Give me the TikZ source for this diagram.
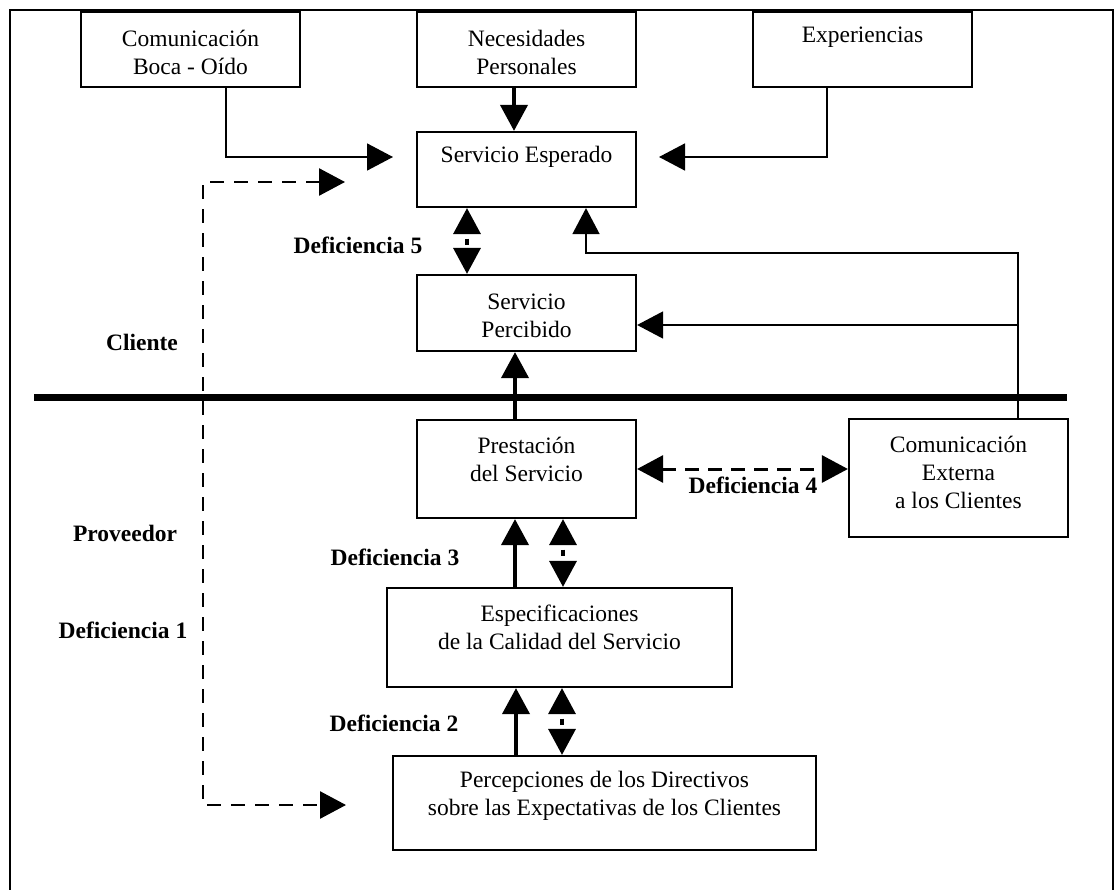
\documentclass[tikz,border=0pt]{standalone}
\usepackage{fontspec}
\setmainfont{Liberation Serif}
\usetikzlibrary{arrows.meta,calc}
\begin{document}
\begin{tikzpicture}[x=1pt,y=-1pt,
  >={Triangle[length=26pt,width=27pt]},
  box/.style={draw, rectangle, line width=2.2pt, inner sep=0pt},
  txt/.style={font=\fontsize{23.5}{28}\selectfont, align=center, inner sep=0pt},
  lbl/.style={font=\fontsize{23.5}{28}\selectfont\bfseries, inner sep=0pt},
  thinline/.style={line width=1.6pt, ->},
  thickarrow/.style={line width=4pt, ->},
  dashline/.style={line width=2.6pt, dash pattern=on 14pt off 10pt, <->},
  dashfour/.style={line width=3pt, dash pattern=on 14pt off 9pt, <->},
  gaparrow/.style={line width=3.5pt, <->, dash pattern=on 0pt off 5.5pt on 6pt off 40pt}]
\useasboundingbox (0,0) rectangle (1115,890);
\clip (0,0) rectangle (1115,890);
% outer frame
\draw[line width=2pt] (10,900) -- (10,10) -- (1113,10) -- (1113,900);

% boxes
\node[box, minimum width=219pt, minimum height=75pt] (boca) at (190.5,49.5) {};
\node[box, minimum width=219pt, minimum height=75pt] (nec) at (526.5,49.5) {};
\node[box, minimum width=219pt, minimum height=75pt] (exp) at (862.5,49.5) {};
\node[box, minimum width=219pt, minimum height=75pt] (se) at (526.5,169.5) {};
\node[box, minimum width=219pt, minimum height=76pt] (sp) at (526.5,313) {};
\node[box, minimum width=219pt, minimum height=98pt] (pres) at (526.5,469) {};
\node[box, minimum width=219pt, minimum height=118pt] (cext) at (958.5,478) {};
\node[box, minimum width=345pt, minimum height=99pt] (esp) at (559.5,637.5) {};
\node[box, minimum width=423pt, minimum height=94pt] (perc) at (604.5,803) {};

% box texts
\node[txt] (bocaT) at (190.5,52.5) {Comunicación\\Boca - Oído};
\node[txt] (necT) at (526.5,52.5) {Necesidades\\Personales};
\node[txt] (expT) at (862.5,37) {Experiencias};
\node[txt] (seT) at (526.5,157) {Servicio Esperado};
\node[txt] (spT) at (526.5,316) {Servicio\\Percibido};
\node[txt] (presT) at (526.5,459) {Prestación\\del Servicio};
\node[txt] (cextT) at (958.5,472.5) {Comunicación\\Externa\\a los Clientes};
\node[txt] (espT) at (559.5,627.5) {Especificaciones\\de la Calidad del Servicio};
\node[txt] (percT) at (604.5,796) {Percepciones de los Directivos\\sobre las Expectativas de los Clientes};

% labels
\node[lbl] (cli) at (142,342) {Cliente};
\node[lbl] (prov) at (125,533) {Proveedor};
\node[lbl] (def1) at (123,630) {Deficiencia 1};
\node[lbl] (def5) at (358,245) {Deficiencia 5};
\node[lbl] (def3) at (395,557) {Deficiencia 3};
\node[lbl] (def2) at (394,723) {Deficiencia 2};
\node[lbl] (def4) at (753,485) {Deficiencia 4};

% separator
\draw[line width=7pt] (34,397) -- (1067,397);

% coordinates
\coordinate (bocaEnd) at (393,157);
\coordinate (expEnd) at (659,157);
\coordinate (j1) at (1018,253);
\coordinate (j2) at (1018,325);
\coordinate (d1a) at (345,182);
\coordinate (d1c) at (203,805);
\coordinate (d1b) at (346,805);

% connectors
\draw[thinline] ($(boca.south)+(35.5,0)$) |- (bocaEnd);
\draw[thinline] ($(exp.south)+(-35.5,0)$) |- (expEnd);
\draw[thickarrow] ($(nec.south)+(-12.5,0)$) -- ($(se.north)+(-12.5,0)$);
\draw[gaparrow] ($(se.south)+(-59.5,0)$) -- ($(sp.north)+(-59.5,0)$);
\draw[thinline] ($(cext.north)+(59.5,0)$) -- (j1) -| ($(se.south)+(59.5,0)$);
\draw[thinline] (j2) -- (sp.east |- j2);
\draw[thickarrow] ($(pres.north)+(-11.5,0)$) -- ($(sp.south)+(-11.5,0)$);
\draw[dashfour] (pres.east) -- (pres.east -| cext.west);
\draw[thickarrow] ($(esp.north)+(-44.5,0)$) -- ($(pres.south)+(-11.5,0)$);
\draw[gaparrow] ($(pres.south)+(36.5,0)$) -- ($(esp.north)+(3.5,0)$);
\draw[thickarrow] ($(perc.north)+(-88.5,0)$) -- ($(esp.south)+(-43.5,0)$);
\draw[gaparrow] ($(esp.south)+(2.5,0)$) -- ($(perc.north)+(-42.5,0)$);
\draw[dashline] (d1a) -| (d1c) -- (d1b);
\end{tikzpicture}
\end{document}
